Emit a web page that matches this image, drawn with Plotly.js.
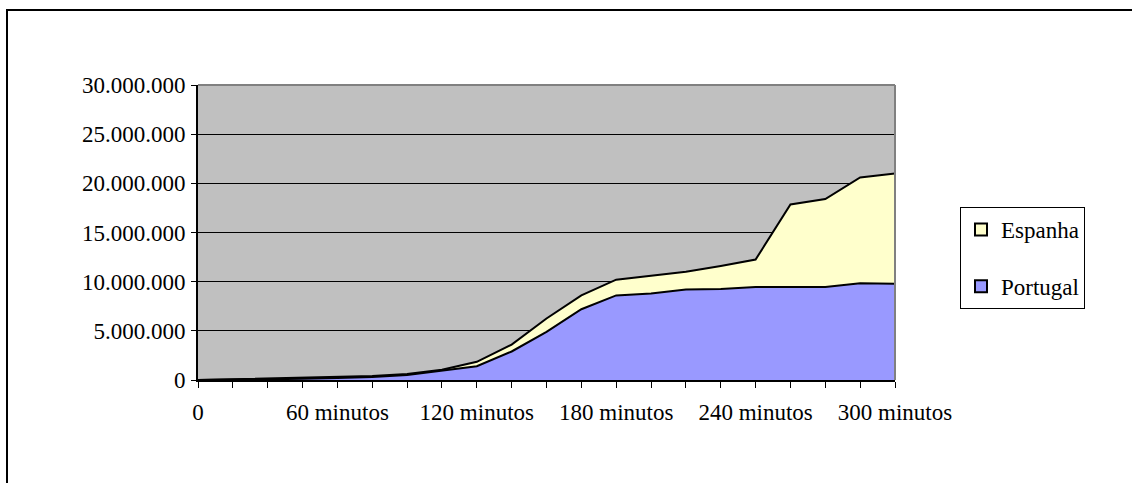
<!DOCTYPE html>
<html>
<head>
<meta charset="utf-8">
<script src="https://cdn.plot.ly/plotly-3.0.1.min.js"></script>
<style>
  html, body { margin: 0; padding: 0; background: #fff; }
  #chart { width: 1132px; height: 483px; }
</style>
</head>
<body>
<div id="chart"></div>
<script>
// Minutes (category positions)
const minutes = [0, 15, 30, 45, 60, 75, 90, 105, 120, 135, 150, 165, 180, 195, 210, 225, 240, 255, 270, 285, 300];
// Tick labels for every category (only every 4th is labelled)
const tickLabels = ['0', '', '', '', '60 minutos', '', '', '', '120 minutos', '', '', '', '180 minutos', '', '', '', '240 minutos', '', '', '', '300 minutos'];
// Series values
const portugal = [0, 30000, 80000, 120000, 200000, 300000, 500000, 950000, 1400000, 2900000, 4900000, 7200000, 8600000, 8800000, 9200000, 9250000, 9450000, 9450000, 9450000, 9850000, 9800000];
const espanha  = [0, 50000, 100000, 100000, 150000, 100000, 100000, 100000, 450000, 700000, 1350000, 1400000, 1600000, 1800000, 1800000, 2350000, 2800000, 8400000, 8950000, 10750000, 11200000];

const portugalColor = '#9999FF';
const espanhaColor = '#FFFFCC';

const W = 1132, H = 483;
const L = 198, R = 895, T = 85, B = 380;
const pw = R - L, ph = B - T;
function px(x) { return (x - L) / pw; }
function py(y) { return (B - y) / ph; }

const font = { family: 'Liberation Serif, Times New Roman, serif', size: 23, color: '#000' };

const traces = [
  {
    name: 'Portugal', x: minutes, y: portugal, type: 'scatter', mode: 'lines',
    stackgroup: 'one', showlegend: false,
    line: { color: '#000', width: 2 }, fillcolor: portugalColor, hoverinfo: 'skip'
  },
  {
    name: 'Espanha', x: minutes, y: espanha, type: 'scatter', mode: 'lines',
    stackgroup: 'one', showlegend: false,
    line: { color: '#000', width: 2 }, fillcolor: espanhaColor, hoverinfo: 'skip'
  },
  // legend entries (square swatches)
  {
    name: 'Espanha', x: [null], y: [null], type: 'scatter', mode: 'markers',
    legendgroup: 'e', legendrank: 1,
    marker: { symbol: 'square', size: 12, color: espanhaColor, line: { color: '#000', width: 1.5 } }
  },
  {
    name: 'Portugal', x: [null], y: [null], type: 'scatter', mode: 'markers',
    legendgroup: 'p', legendrank: 2,
    marker: { symbol: 'square', size: 12, color: portugalColor, line: { color: '#000', width: 1.5 } }
  }
];

const layout = {
  width: W, height: H,
  margin: { l: L, r: W - R, t: T, b: H - B, pad: 0 },
  paper_bgcolor: '#fff',
  plot_bgcolor: '#C0C0C0',
  separators: ',.',
  font: font,
  showlegend: true,
  xaxis: {
    range: [0, 300], tickmode: 'array', tickvals: minutes, ticktext: tickLabels,
    ticks: 'outside', ticklen: 6, tickcolor: '#000', tickwidth: 1,
    showline: true, linecolor: '#000', linewidth: 2,
    showgrid: false, zeroline: false, tickangle: 0,
    ticklabelstandoff: 4, tickfont: font
  },
  yaxis: {
    range: [0, 30000000], dtick: 5000000, tick0: 0, tickformat: ',d',
    ticks: 'outside', ticklen: 5, tickcolor: '#000', tickwidth: 1,
    showline: true, linecolor: '#000', linewidth: 2,
    showgrid: true, gridcolor: '#000', gridwidth: 1, zeroline: false,
    ticklabelstandoff: 1, tickfont: font
  },
  legend: {
    x: px(960), y: py(207), xanchor: 'left', yanchor: 'top',
    bgcolor: '#fff', bordercolor: '#000', borderwidth: 1,
    traceorder: 'grouped', tracegroupgap: 24,
    font: font, itemsizing: 'constant', itemwidth: 30,
    entrywidth: 100, entrywidthmode: 'pixels'
  },
  shapes: [
    { type: 'line', xref: 'paper', yref: 'paper', x0: 0, x1: 1, y0: 1, y1: 1, line: { color: '#808080', width: 2 } },
    { type: 'line', xref: 'paper', yref: 'paper', x0: 1, x1: 1, y0: 0, y1: 1, line: { color: '#808080', width: 2 } },
    { type: 'rect', xref: 'paper', yref: 'paper', x0: px(7), x1: px(1150), y0: py(10), y1: py(500), line: { color: '#000', width: 2 }, fillcolor: 'rgba(0,0,0,0)' }
  ]
};

Plotly.newPlot('chart', traces, layout, { displayModeBar: false, staticPlot: true });
</script>
</body>
</html>
